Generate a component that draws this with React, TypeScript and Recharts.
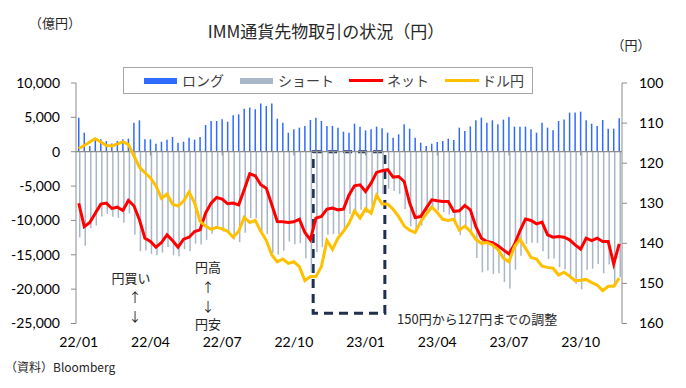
import React from 'react';
import {
  ComposedChart,
  Bar,
  Line,
  XAxis,
  YAxis,
  ReferenceLine,
  ReferenceArea,
} from 'recharts';

// weekly IMM data, first report 2022-01-04
const startDate = '2022-01-04';

const longPos = [
  4960, 2770, 830, 1800, 1800, 1550, 1200, 1550, 1800, 1900,
  4230, 4570, 1800, 1800, 1170, 1460, 1750, 2140, 1310, 1460,
  2040, 1750, 2140, 3890, 4470, 4470, 4710, 4370, 5300, 5440,
  6270, 6420, 6170, 7000, 6660, 7000, 4810, 4230, 2770, 3260,
  3500, 3740, 4620, 4960, 4470, 3740, 3740, 3500, 2920, 2770,
  4080, 3650, 3110, 3260, 3650, 3400, 2770, 2040, 2530, 3990,
  3350, 2040, 1310, 830, 1170, 1410, 1550, 1900, 1700, 3500,
  3010, 3690, 4570, 4960, 4230, 4570, 3990, 4670, 5050, 3650,
  3650, 3650, 3260, 2770, 4230, 3500, 3110, 4470, 4670, 5690,
  5690, 5830, 4570, 4080, 3740, 4620, 3350, 3350, 4860,
];

const shortPos = [
  -12500, -13670, -11130, -10740, -9430, -9030, -9460, -9620, -10350, -9000,
  -12100, -14480, -14390, -14870, -15070, -14680, -13850, -15070, -15210, -14190,
  -14480, -13370, -13510, -12830, -11950, -11130, -11610, -11950, -12780, -13170,
  -11810, -9630, -9670, -11810, -11960, -14730, -14970, -14430, -13070, -13460,
  -13320, -15500, -17450, -14630, -13900, -12100, -11950, -11960, -11280, -9070,
  -9040, -8460, -8890, -7830, -6660, -6170, -5390, -5730, -6130, -8320,
  -10830, -11610, -10740, -9040, -8170, -8550, -8790, -9140, -10400, -12100,
  -10830, -12150, -15460, -17550, -17300, -17790, -17690, -18960, -19920, -17150,
  -15150, -13420, -13260, -13270, -14480, -15600, -15550, -16810, -17110, -18520,
  -19250, -20020, -17160, -17010, -16330, -17690, -16420, -19680, -18270,
];

const netPos = [
  -7500, -10900, -10300, -8940, -7630, -7480, -8260, -8070, -8550, -7100,
  -7870, -9910, -12590, -13070, -13900, -13220, -12100, -12930, -13900, -12730,
  -12440, -11620, -11370, -8940, -7480, -6660, -6900, -7580, -7480, -7730,
  -5540, -3210, -3500, -4810, -5300, -7730, -10160, -10200, -10300, -10200,
  -9820, -11760, -12830, -9670, -9430, -8360, -8210, -8460, -8360, -6300,
  -4960, -4810, -5780, -4570, -3010, -2770, -2620, -3690, -3600, -4330,
  -7480, -9570, -9430, -8210, -7000, -7140, -7240, -7240, -8700, -8600,
  -7820, -8460, -10890, -12590, -13070, -13220, -13700, -14290, -14870, -13500,
  -11500, -9800, -10000, -10500, -10250, -12100, -12440, -12340, -12440, -12830,
  -13560, -14190, -12590, -12930, -12590, -13070, -13070, -16330, -13410,
];

const usdjpy = [
  116.3, 115.6, 114.7, 113.9, 114.7, 115.6, 115.7, 115.2, 114.7, 115.3,
  118.2, 121.0, 122.4, 123.7, 125.7, 128.8, 127.7, 130.2, 130.7, 129.5,
  127.2, 129.9, 134.5, 135.7, 136.5, 136.0, 136.4, 137.0, 138.5, 137.0,
  133.5, 134.8, 134.3, 137.0, 139.3, 142.9, 144.6, 143.9, 145.0, 144.6,
  145.8, 149.3, 148.3, 148.3, 145.8, 139.3, 141.5, 138.7, 137.0, 135.0,
  131.9, 133.7, 131.4, 132.5, 128.0, 130.2, 130.2, 131.5, 133.3, 135.7,
  136.7, 137.3, 134.6, 132.7, 131.0, 132.3, 134.0, 134.3, 134.0, 136.7,
  135.7, 137.0, 139.0, 140.0, 139.8, 140.4, 141.5, 143.7, 144.6, 140.8,
  139.0, 141.2, 143.5, 143.9, 145.7, 146.0, 146.2, 147.9, 147.2, 148.2,
  149.3, 149.2, 149.0, 149.8, 150.4, 151.8, 150.7, 150.7, 148.7,
];

const quarterTicks = [
  '2022-01-04', '2022-04-05', '2022-07-05', '2022-10-04',
  '2023-01-03', '2023-04-04', '2023-07-04', '2023-10-03',
];
const leftTicks = [10000, 5000, 0, -5000, -10000, -15000, -20000, -25000];
const rightTicks = [100, 110, 120, 130, 140, 150, 160];

const weekLabel = (i: number) => {
  const d = new Date(startDate + 'T00:00:00Z');
  d.setUTCDate(d.getUTCDate() + i * 7);
  return d.toISOString().slice(0, 10);
};

const data = longPos.map((v, i) => ({
  week: weekLabel(i),
  long: v,
  short: shortPos[i],
  net: netPos[i],
  usdjpy: usdjpy[i],
}));

const JP = '"Noto Sans CJK JP", "Noto Sans", sans-serif';
const NUM = 'Lato, "Noto Sans", sans-serif';
const AXIS = '#8c8c8c';

const Txt = ({ x, y, size = 13, children, anchor = 'center', font = JP }: any) => (
  <div
    style={{
      position: 'absolute',
      left: x,
      top: y,
      transform: anchor === 'center' ? 'translate(-50%, -50%)' : 'translate(0, -50%)',
      fontFamily: font,
      fontSize: size,
      color: '#262626',
      whiteSpace: 'nowrap',
      lineHeight: 1,
    }}
  >
    {children}
  </div>
);

const legendText = { position: 'absolute', top: 5, fontFamily: JP, fontSize: 14, color: '#404040', lineHeight: 1 } as const;

const LegendBox = () => (
  <div
    style={{
      position: 'absolute',
      left: 123,
      top: 67,
      width: 410,
      height: 27,
      border: '1px solid #a6a6a6',
      boxSizing: 'border-box',
      background: '#fff',
    }}
  >
    <div style={{ position: 'absolute', left: 20, top: 10, width: 33, height: 6, background: '#2f6bff' }} />
    <div style={{ ...legendText, left: 58 }}>ロング</div>
    <div style={{ position: 'absolute', left: 116, top: 10, width: 33, height: 6, background: '#a9b6c8' }} />
    <div style={{ ...legendText, left: 154 }}>ショート</div>
    <div style={{ position: 'absolute', left: 225, top: 11, width: 34, height: 3, background: '#ff0000' }} />
    <div style={{ ...legendText, left: 263 }}>ネット</div>
    <div style={{ position: 'absolute', left: 321, top: 11, width: 34, height: 3, background: '#ffc000' }} />
    <div style={{ ...legendText, left: 358 }}>ドル円</div>
  </div>
);

const App = () => {
  return (
    <div style={{ position: 'absolute', left: 0, top: 0, width: 686, height: 388, background: '#fff' }}>
      <ComposedChart
        width={686}
        height={388}
        data={data}
        margin={{ top: 83, right: 0, bottom: 0, left: 0 }}
        barGap={-0.5}
        barCategoryGap={0}
      >
        <XAxis
          dataKey="week"
          ticks={quarterTicks}
          interval={0}
          axisLine={false}
          tickLine={false}
          tickSize={0}
          tickMargin={14}
          height={64.5}
          tickFormatter={(v: string) => `${v.slice(2, 4)}/${v.slice(5, 7)}`}
          tick={{ fill: '#000', fontSize: 14, fontFamily: NUM }}
        />
        <YAxis
          yAxisId="left"
          domain={[-25000, 10000]}
          ticks={leftTicks}
          interval={0}
          width={76}
          stroke={AXIS}
          tickSize={5}
          tickMargin={11}
          tickFormatter={(v: number) => v.toLocaleString('en-US')}
          tick={{ fill: '#000', fontSize: 14, fontFamily: NUM }}
        />
        <YAxis
          yAxisId="right"
          orientation="right"
          domain={[100, 160]}
          reversed
          ticks={rightTicks}
          interval={0}
          width={64}
          stroke={AXIS}
          tickSize={5}
          tickMargin={12}
          tick={{ fill: '#000', fontSize: 14, fontFamily: NUM }}
        />
        <Bar yAxisId="left" dataKey="long" fill="#2f6bff" barSize={1.5} isAnimationActive={false} />
        <Bar yAxisId="left" dataKey="short" fill="#a9b6c8" barSize={1.5} isAnimationActive={false} />
        <ReferenceLine yAxisId="left" y={0} stroke={AXIS} strokeWidth={1.2} />
        {quarterTicks.slice(1).map((t) => (
          <ReferenceLine
            key={t}
            yAxisId="left"
            segment={[{ x: t, y: 0 }, { x: t, y: -550 }]}
            stroke={AXIS}
            strokeWidth={1}
          />
        ))}
        <Line
          yAxisId="left"
          dataKey="net"
          stroke="#ff0000"
          strokeWidth={3}
          dot={false}
          type="linear"
          isAnimationActive={false}
        />
        <Line
          yAxisId="right"
          dataKey="usdjpy"
          stroke="#ffc000"
          strokeWidth={3}
          dot={false}
          type="linear"
          isAnimationActive={false}
        />
        <ReferenceArea
          yAxisId="left"
          x1="2022-11-01"
          x2="2023-01-24"
          y1={0}
          y2={-23500}
          fill="none"
          fillOpacity={0}
          stroke="#1f2f4f"
          strokeWidth={3}
          strokeDasharray="9 6"
        />
      </ComposedChart>

      <LegendBox />
      <Txt x={55} y={22} size={13}>（億円）</Txt>
      <Txt x={326} y={30} size={17}>IMM通貨先物取引の状況（円）</Txt>
      <Txt x={631} y={44} size={13}>（円）</Txt>

      <Txt x={131} y={277} size={13}>円買い</Txt>
      <Txt x={135} y={296} size={13}>↑</Txt>
      <Txt x={135} y={315} size={13}>↓</Txt>
      <Txt x={208} y={266} size={13}>円高</Txt>
      <Txt x={208} y={285.5} size={13}>↑</Txt>
      <Txt x={208} y={304.5} size={13}>↓</Txt>
      <Txt x={208} y={323} size={13}>円安</Txt>
      <Txt x={397} y={318} size={13} anchor="left">150円から127円までの調整</Txt>
      <Txt x={5} y={367} size={12} anchor="left">（資料）Bloomberg</Txt>
    </div>
  );
};

export default App;
